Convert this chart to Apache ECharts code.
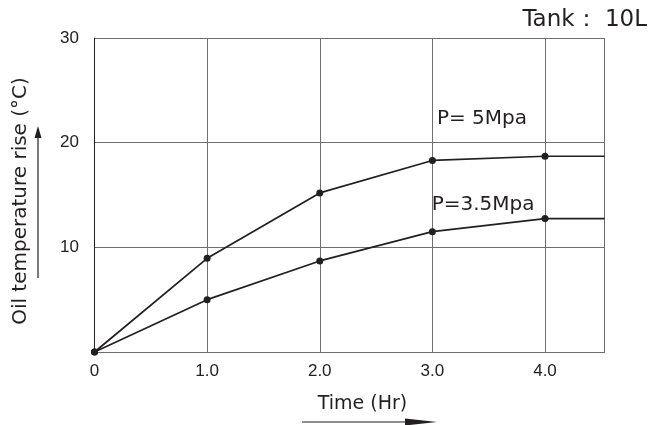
<!DOCTYPE html>
<html><head><meta charset="utf-8">
<script src="https://cdn.jsdelivr.net/npm/echarts@6/dist/echarts.min.js"></script>
<style>html,body{margin:0;padding:0;background:#fff}#c{width:649px;height:425px}</style>
</head><body><div id="c"></div>
<script>
var timeHr = [0, 1.0, 2.0, 3.0, 4.0, 4.53];
var p5Values = [0, 8.95, 15.2, 18.3, 18.7, 18.7];
var p35Values = [0, 5.0, 8.7, 11.5, 12.75, 12.75];
var seriesNames = ['P= 5Mpa', 'P=3.5Mpa'];
var yTicks = [0, 10, 20, 30];
var xMax = 4.53;
var labelIndex = 3;

var titleFont = 'DejaVu Sans';
function build(vals, name, off) {
  return timeHr.map(function (t, i) {
    var item = { value: [t, vals[i]] };
    if (i === timeHr.length - 1) item.symbol = 'none';
    if (i === labelIndex) {
      item.label = { show: true, formatter: name, position: 'top', align: 'left', verticalAlign: 'middle',
        offset: off, color: '#231f20', fontSize: 20, fontFamily: titleFont };
    }
    return item;
  });
}

var chart = echarts.init(document.getElementById('c'));
var ink = '#231f20';
chart.setOption({
  animation: false,
  grid: { left: 94.5, right: 44.3, top: 38, bottom: 73 },
  xAxis: {
    type: 'value', min: 0, max: xMax, interval: 1,
    axisLine: { show: true, lineStyle: { color: '#6e6e6e', width: 1 } },
    axisTick: { show: false },
    splitLine: { show: true, lineStyle: { color: '#6e6e6e', width: 1 } },
    axisLabel: { showMaxLabel: false, margin: 11, color: '#222', fontSize: 17, fontFamily: 'Liberation Sans',
      formatter: function (v) { return v === 0 ? '0' : v.toFixed(1); } }
  },
  yAxis: {
    type: 'value', min: yTicks[0], max: yTicks[yTicks.length - 1], interval: 10,
    axisLine: { show: true, lineStyle: { color: ink, width: 1 } },
    axisTick: { show: false },
    splitLine: { show: true, lineStyle: { color: '#6e6e6e', width: 1 } },
    axisLabel: { margin: 15.5, color: '#222', fontSize: 17, fontFamily: 'Liberation Sans',
      formatter: function (v) { return v === 0 ? '' : String(v); } }
  },
  series: [
    { type: 'line', name: seriesNames[0], data: build(p5Values, seriesNames[0], [4.5, -33.5]),
      symbol: 'circle', symbolSize: 7, itemStyle: { color: ink },
      lineStyle: { color: ink, width: 1.7 } },
    { type: 'line', name: seriesNames[1], data: build(p35Values, seriesNames[1], [-0.7, -18]),
      symbol: 'circle', symbolSize: 7, itemStyle: { color: ink },
      lineStyle: { color: ink, width: 1.7 } }
  ],
  graphic: [
    { type: 'text', x: 647, y: 20, style: { text: 'Tank： 10L', fill: ink, fontSize: 23, fontFamily: titleFont, align: 'right', verticalAlign: 'middle' } },
    { type: 'text', x: 21, y: 201, rotation: Math.PI / 2,
      style: { text: 'Oil temperature rise (°C)', fill: ink, fontSize: 20, fontFamily: titleFont, align: 'center', verticalAlign: 'middle' } },
    { type: 'line', shape: { x1: 38, y1: 278, x2: 38, y2: 135 }, style: { stroke: ink, lineWidth: 1.2 } },
    { type: 'polygon', shape: { points: [[38, 126], [34.5, 138], [41.5, 138]] }, style: { fill: ink } },
    { type: 'text', x: 362.5, y: 404.5, style: { text: 'Time (Hr)', fill: ink, fontSize: 19, fontFamily: titleFont, align: 'center', verticalAlign: 'middle' } },
    { type: 'line', shape: { x1: 302, y1: 422, x2: 425, y2: 422 }, style: { stroke: ink, lineWidth: 1.2 } },
    { type: 'polygon', shape: { points: [[437, 422], [405, 418.5], [405, 425.5]] }, style: { fill: ink } }
  ]
});
</script></body></html>
